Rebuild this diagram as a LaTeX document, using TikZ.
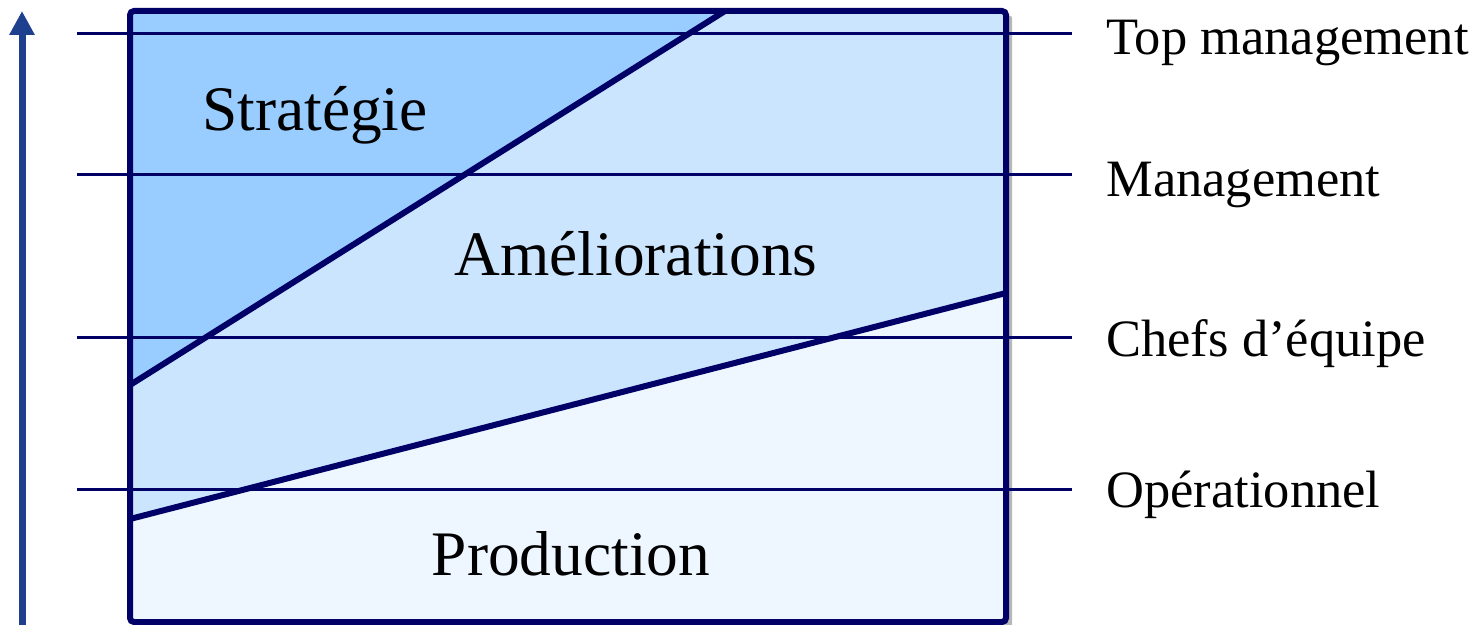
\documentclass[tikz,border=0pt]{standalone}
\usepackage{fontspec}
\setmainfont{Liberation Serif}
\usepackage{xcolor}
\usetikzlibrary{arrows.meta, shadows}
\definecolor{navy}{HTML}{000066}
\definecolor{arrowblue}{HTML}{1F3F8F}
\definecolor{stratfill}{HTML}{99CCFF}
\definecolor{amelfill}{HTML}{CCE5FF}
\definecolor{prodfill}{HTML}{EEF6FF}

\begin{document}
\begin{tikzpicture}[x=0.5pt, y=-0.5pt,
    level/.style={draw=navy, line width=1.5pt},
    split/.style={draw=navy, line width=3pt},
    tier/.style={anchor=base west, inner sep=0pt, font=\fontsize{26.25}{30}\selectfont},
    zone/.style={anchor=base, inner sep=0pt, font=\fontsize{31.7}{36}\selectfont}]
      \useasboundingbox (0,0) rectangle (1481,625);

      % Box corners and split points
      \coordinate (tl) at (130,11);
      \coordinate (tr) at (1006,11);
      \coordinate (br) at (1006,622);
      \coordinate (bl) at (130,622);
      \coordinate (s1top) at (725,11);
      \coordinate (s1left) at (130,385);
      \coordinate (s2right) at (1006,293);
      \coordinate (s2left) at (130,519);

      % Shadow of the box
      \fill[white, rounded corners=1pt, drop shadow={shadow xshift=3pt, shadow yshift=-2.5pt, opacity=0.4, fill=black!70}] (tl) rectangle (br);

      % Regions
      \fill[stratfill] (tl) -- (s1top) -- (s1left) -- cycle;
      \fill[amelfill] (s1top) -- (tr) -- (s2right) -- (s2left) -- (s1left) -- cycle;
      \fill[prodfill] (s2left) -- (s2right) -- (br) -- (bl) -- cycle;

      % Levels
      \coordinate (l1w) at (77,34);   \coordinate (l1e) at (1072,34);
      \coordinate (l2w) at (77,175);  \coordinate (l2e) at (1072,175);
      \coordinate (l3w) at (77,338);  \coordinate (l3e) at (1072,338);
      \coordinate (l4w) at (77,489);  \coordinate (l4e) at (1072,489);
      \draw[level] (l1w) -- (l1e);
      \draw[level] (l2w) -- (l2e);
      \draw[level] (l3w) -- (l3e);
      \draw[level] (l4w) -- (l4e);

      % Splits and frame
      \draw[split] (s1left) -- (s1top);
      \draw[split] (s2left) -- (s2right);
      \draw[split, rounded corners=2pt] (tl) rectangle (br);

      % Hierarchy arrow
      \coordinate (up0) at (22,625);
      \coordinate (up1) at (22,11);
      \draw[arrowblue, line width=3.5pt, -{Triangle[length=12pt, width=12pt]}] (up0) -- (up1);

      % Region labels
      \node[zone] (strat) at (315,131) {Stratégie};
      \node[zone] (amel) at (636,276) {Améliorations};
      \node[zone] (prod) at (571,575) {Production};

      % Level labels
      \node[tier] (topm) at (1106,55) {Top management};
      \node[tier] (mgmt) at (1106,197) {Management};
      \node[tier] (chefs) at (1106,357) {Chefs d’équipe};
      \node[tier] (oper) at (1106,507) {Opérationnel};
\end{tikzpicture}
\end{document}
